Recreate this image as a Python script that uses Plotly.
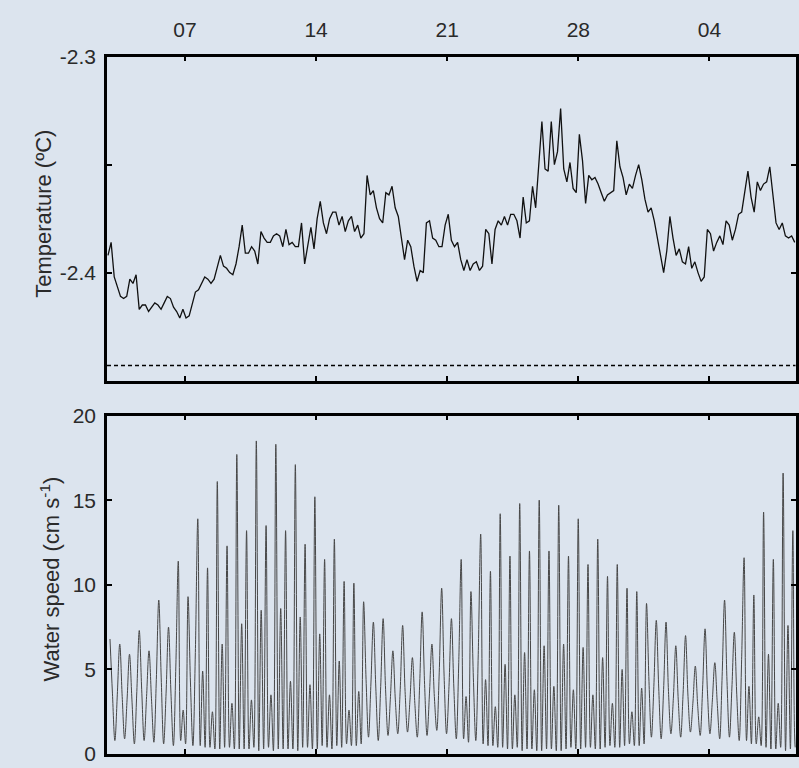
import pandas as pd
import plotly.graph_objects as go

# ---------------- data ----------------
# Temperature (deg C), sampled every 4 h starting 2011-01-02 21:20
temp_start = "2011-01-02 21:20"
temp_step = "4h"
temperature = [
    -2.392, -2.386, -2.402, -2.406, -2.411, -2.412, -2.411, -2.403, -2.405, -2.401,
    -2.417, -2.415, -2.415, -2.418, -2.416, -2.414, -2.415, -2.417, -2.414, -2.411,
    -2.412, -2.416, -2.418, -2.421, -2.417, -2.421, -2.420, -2.415, -2.409, -2.408,
    -2.405, -2.402, -2.403, -2.405, -2.403, -2.397, -2.392, -2.397, -2.398, -2.400,
    -2.401, -2.396, -2.388, -2.378, -2.391, -2.391, -2.388, -2.390, -2.396, -2.381,
    -2.384, -2.386, -2.386, -2.383, -2.382, -2.383, -2.388, -2.380, -2.387, -2.386,
    -2.388, -2.388, -2.377, -2.396, -2.388, -2.379, -2.389, -2.375, -2.367, -2.377,
    -2.382, -2.375, -2.372, -2.372, -2.378, -2.374, -2.381, -2.376, -2.374, -2.381,
    -2.378, -2.384, -2.382, -2.355, -2.364, -2.362, -2.370, -2.375, -2.377, -2.363,
    -2.364, -2.360, -2.370, -2.374, -2.384, -2.394, -2.385, -2.388, -2.397, -2.404,
    -2.399, -2.400, -2.377, -2.376, -2.384, -2.385, -2.388, -2.388, -2.378, -2.373,
    -2.385, -2.388, -2.386, -2.394, -2.399, -2.394, -2.399, -2.396, -2.395, -2.399,
    -2.397, -2.380, -2.382, -2.396, -2.380, -2.376, -2.378, -2.374, -2.378, -2.373,
    -2.373, -2.376, -2.384, -2.365, -2.377, -2.376, -2.360, -2.370, -2.350, -2.330,
    -2.352, -2.353, -2.330, -2.350, -2.344, -2.324, -2.352, -2.358, -2.349, -2.361,
    -2.363, -2.336, -2.348, -2.368, -2.355, -2.357, -2.356, -2.359, -2.363, -2.367,
    -2.364, -2.363, -2.362, -2.339, -2.351, -2.356, -2.364, -2.359, -2.361, -2.355,
    -2.350, -2.357, -2.366, -2.372, -2.370, -2.376, -2.384, -2.392, -2.400, -2.390,
    -2.374, -2.384, -2.392, -2.389, -2.395, -2.396, -2.388, -2.398, -2.395, -2.400,
    -2.404, -2.402, -2.380, -2.382, -2.390, -2.386, -2.383, -2.387, -2.376, -2.378,
    -2.385, -2.380, -2.373, -2.372, -2.362, -2.353, -2.365, -2.372, -2.358, -2.362,
    -2.359, -2.358, -2.351, -2.365, -2.377, -2.380, -2.377, -2.383, -2.384, -2.383,
    -2.386,
]
freezing_point = -2.443

# Water speed (cm/s), sampled four times per 12.5 h tidal cycle,
# first sample (a main peak) at 2011-01-02 23:54
speed_start = "2011-01-02 23:54"
speed_step = "11250s"   # 3 h 7.5 min
main_peak = [
    6.8, 6.5, 5.9, 7.3, 6.1, 9.1, 7.5, 11.4, 9.3, 13.9,
    11.0, 16.1, 12.3, 17.7, 13.2, 18.5, 13.5, 18.3, 13.2, 17.1,
    12.4, 15.2, 11.5, 12.7, 10.2, 10.1, 9.0, 7.8, 8.0, 6.1,
    7.6, 5.7, 8.4, 6.5, 9.8, 8.0, 11.5, 9.6, 13.0, 10.8,
    14.2, 11.7, 14.8, 12.0, 15.0, 12.0, 14.7, 11.7, 13.9, 11.2,
    12.7, 10.5, 11.2, 9.8, 9.6, 8.9, 7.9, 7.8, 6.4, 7.0,
    5.2, 7.4, 5.4, 9.1, 7.2, 11.6, 9.4, 14.3, 11.5, 16.6,
    13.2,
]
quarter_after = [
    3.6, 3.4, 3.2, 3.8, 3.3, 4.5, 3.6, 0.8, 4.2, 0.5,
    0.4, 0.3, 0.4, 0.3, 0.3, 0.2, 0.4, 0.3, 0.3, 0.2,
    0.4, 0.3, 0.4, 0.5, 0.6, 0.5, 4.4, 3.9, 3.8, 3.2,
    3.7, 3.0, 4.1, 3.4, 4.6, 3.9, 0.9, 4.5, 0.6, 0.5,
    0.4, 0.3, 0.2, 0.3, 0.2, 0.3, 0.2, 0.4, 0.3, 0.4,
    0.3, 0.5, 0.4, 0.6, 0.5, 4.3, 3.9, 3.7, 3.2, 3.4,
    2.8, 3.6, 3.0, 4.3, 3.5, 0.8, 0.6, 0.4, 0.3, 0.2,
    0.4,
]
half_after = [
    0.8, 0.9, 0.6, 0.8, 0.7, 0.6, 0.5, 2.6, 0.5, 4.9,
    2.5, 6.5, 3.0, 7.7, 3.2, 8.5, 3.5, 8.6, 4.3, 8.1,
    4.1, 7.1, 3.5, 5.5, 2.6, 3.7, 1.0, 0.8, 1.1, 1.2,
    1.3, 1.0, 1.1, 1.4, 1.2, 0.9, 3.4, 0.8, 4.4, 2.8,
    5.3, 3.5, 6.0, 3.8, 6.4, 4.0, 6.5, 3.8, 6.3, 3.5,
    5.7, 3.0, 5.0, 2.5, 3.9, 1.0, 0.9, 1.2, 1.0, 1.3,
    1.1, 1.2, 0.9, 1.0, 0.8, 4.0, 2.2, 5.9, 3.0, 7.6,
    2.0,
]
three_quarter_after = [
    3.5, 3.2, 3.7, 3.4, 4.4, 3.6, 5.2, 0.6, 6.0, 0.4,
    0.3, 0.4, 0.3, 0.3, 0.4, 0.3, 0.2, 0.3, 0.3, 0.4,
    0.3, 0.5, 0.3, 0.4, 0.5, 0.6, 4.2, 4.0, 3.4, 3.8,
    3.2, 4.2, 3.6, 4.8, 4.0, 5.4, 0.7, 5.9, 0.5, 0.4,
    0.3, 0.4, 0.3, 0.2, 0.3, 0.2, 0.3, 0.3, 0.4, 0.3,
    0.4, 0.4, 0.5, 0.5, 0.6, 4.0, 3.8, 3.3, 3.6, 3.0,
    3.9, 3.2, 4.6, 3.9, 5.6, 0.6, 0.5, 0.3, 0.4, 0.3,
    0.5,
]

x_range = ["2011-01-02 20:04", "2011-02-08 14:17"]
date_tick0 = "2011-01-07"
temp_tickvals = [-2.4, -2.3]
temp_ticktext = ["-2.4", "-2.3"]
temp_minor_tickvals = [-2.35]

# ---------------- build series ----------------
temp_time = pd.date_range(temp_start, periods=len(temperature), freq=temp_step)
speed = []
for a, b, c, d in zip(main_peak, quarter_after, half_after, three_quarter_after):
    speed.extend([a, b, c, d])
speed_time = pd.date_range(speed_start, periods=len(speed), freq=speed_step)

BG = "#dce4ee"
FONT = dict(family="Liberation Sans, Arial, sans-serif", size=21, color="#2a2a2a")

fig = go.Figure()
fig.add_trace(go.Scatter(x=temp_time, y=temperature, mode="lines",
                         line=dict(color="#111111", width=1.3), xaxis="x", yaxis="y",
                         showlegend=False, hoverinfo="skip"))
fig.add_trace(go.Scatter(x=speed_time, y=speed, mode="lines",
                         line=dict(color="#474747", width=1, shape="spline", smoothing=1.0),
                         xaxis="x2", yaxis="y2", showlegend=False, hoverinfo="skip"))

axis_common = dict(showline=True, linewidth=2.5, linecolor="black", mirror="allticks",
                   ticks="inside", ticklen=5, tickwidth=2, tickcolor="black",
                   showgrid=False, zeroline=False, tickfont=FONT)

W, H = 799, 768
xdom = [107 / W, 795.5 / W]
fig.update_layout(
    width=W, height=H,
    margin=dict(l=0, r=0, t=0, b=0),
    paper_bgcolor=BG, plot_bgcolor=BG,
    font=FONT,
    xaxis=dict(axis_common, domain=xdom, anchor="y", side="top", type="date",
               range=x_range, tick0=date_tick0, dtick=7 * 86400000, tickformat="%d",
               ticklabelstandoff=8),
    yaxis=dict(axis_common, domain=[1 - 380 / H, 1 - 46 / H], anchor="x",
               range=[-2.45, -2.3], tickvals=temp_tickvals, ticktext=temp_ticktext,
               minor=dict(tickvals=temp_minor_tickvals, ticks="inside", ticklen=5,
                          tickwidth=2, tickcolor="black"),
               ticklabelstandoff=4),
    xaxis2=dict(axis_common, domain=xdom, anchor="y2", type="date",
                range=x_range, tick0=date_tick0, dtick=7 * 86400000,
                showticklabels=False),
    yaxis2=dict(axis_common, domain=[1 - 765 / H, 1 - 416 / H], anchor="x2",
                range=[0, 20], dtick=5, ticklabelstandoff=4,
                ticklabeloverflow="allow"),
)

fig.add_hline(y=freezing_point, line=dict(color="black", width=1.6, dash="4px,3px"))

fig.add_annotation(text="Temperature (ºC)", xref="paper", yref="paper",
                   x=44 / W, y=1 - 208 / H, textangle=-90, showarrow=False,
                   font=dict(FONT, size=22), xanchor="center", yanchor="middle")
fig.add_annotation(text="Water speed (cm s<sup>-1</sup>)", xref="paper", yref="paper",
                   x=50 / W, y=1 - 585 / H, textangle=-90, showarrow=False,
                   font=dict(FONT, size=22), xanchor="center", yanchor="middle")

fig.write_html("out.html", config={"displayModeBar": False},
               post_script="document.body.style.margin='0';document.body.style.padding='0';"
                           "document.documentElement.style.overflow='hidden';")
